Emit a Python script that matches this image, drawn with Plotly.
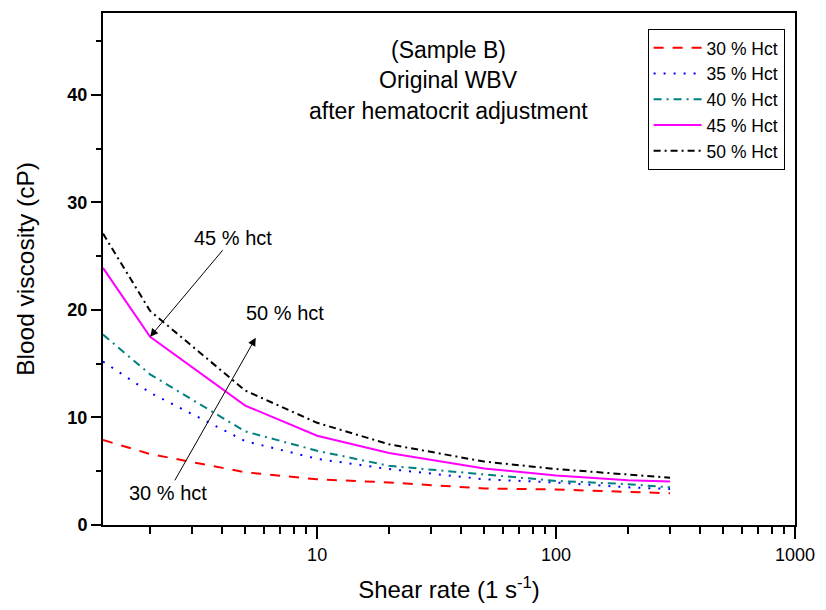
import numpy as np
import plotly.graph_objects as go

shear = [1.27, 2, 5, 10, 20, 50, 100, 200, 300]
hct30 = [7.9, 6.6, 4.9, 4.25, 3.95, 3.4, 3.3, 3.1, 2.95]
hct35 = [15.2, 12.3, 7.8, 6.15, 5.2, 4.25, 3.95, 3.5, 3.35]
hct40 = [17.7, 14.0, 8.7, 6.9, 5.5, 4.7, 4.1, 3.8, 3.5]
hct45 = [23.9, 17.5, 11.1, 8.3, 6.7, 5.25, 4.6, 4.15, 4.05]
hct50 = [27.1, 19.9, 12.5, 9.5, 7.5, 5.9, 5.2, 4.7, 4.4]

names = ["30 % Hct", "35 % Hct", "40 % Hct", "45 % Hct", "50 % Hct"]
series = [hct30, hct35, hct40, hct45, hct50]
colors = ["#FF0000", "#0000FF", "#008080", "#FF00FF", "#000000"]
dashes = ["10px,9px", "2px,8px", "8px,5px,2px,5px", "solid", "7px,4px,2px,4px"]

FONT = "Arial, Liberation Sans, sans-serif"

fig = go.Figure()
for nm, ys, c, d in zip(names, series, colors, dashes):
    fig.add_trace(go.Scatter(x=shear, y=ys, mode="lines", name=nm,
                             line=dict(color=c, width=2, dash=d)))

minor_x = [m * 10 ** k for k in range(0, 3) for m in range(2, 10)]

fig.update_layout(
    width=826, height=610,
    margin=dict(l=103, r=24, t=11, b=84),
    paper_bgcolor="white", plot_bgcolor="white",
    font=dict(family=FONT, color="black"),
    showlegend=True,
    legend=dict(x=0.787, y=0.969, xanchor="left", yanchor="top",
                bordercolor="black", borderwidth=1, bgcolor="white",
                font=dict(size=17.5, family=FONT), itemwidth=48,
                tracegroupgap=0),
    xaxis=dict(type="log", range=[np.log10(1.27), 3],
               tickvals=[10, 100, 1000], ticktext=["10", "100", "1000"],
               ticks="outside", ticklen=12, tickwidth=1.5, tickcolor="black",
               minor=dict(tickvals=minor_x, ticks="outside", ticklen=7,
                          tickwidth=1.5, tickcolor="black"),
               showline=True, linecolor="black", linewidth=2, mirror=True,
               showgrid=False, zeroline=False,
               tickfont=dict(size=18, family=FONT),
               title=dict(text="Shear rate (1 s<sup>-1</sup>)",
                          font=dict(size=24, family=FONT), standoff=18)),
    yaxis=dict(range=[0, 47.6], tickvals=[0, 10, 20, 30, 40],
               ticks="outside", ticklen=10, tickwidth=1.5, tickcolor="black",
               minor=dict(dtick=5, ticks="outside", ticklen=5,
                          tickwidth=1.5, tickcolor="black"),
               showline=True, linecolor="black", linewidth=2, mirror=True,
               showgrid=False, zeroline=False,
               tickfont=dict(size=18, family=FONT, weight="bold"),
               title=dict(text="Blood viscosity (cP)",
                          font=dict(size=24.5, family=FONT), standoff=26)),
)

# title block inside plot
for txt, yy in [("(Sample B)", 0.928), ("Original WBV", 0.870),
                ("after hematocrit adjustment", 0.808)]:
    fig.add_annotation(x=0.499, y=yy, xref="paper", yref="paper",
                       xanchor="center", yanchor="middle",
                       text=txt, showarrow=False,
                       font=dict(size=23, family=FONT))

# label + arrow to the kink of the 45% curve
fig.add_annotation(x=np.log10(shear[1]), y=hct45[1], xref="x", yref="y",
                   text="45 % hct", font=dict(size=20, family=FONT),
                   showarrow=True, arrowhead=2, arrowsize=1.6,
                   arrowwidth=1, arrowcolor="black", ax=83, ay=-99, standoff=0)
# label "30 % hct" with arrow pointing towards the 50% curve
fig.add_annotation(x=0.743, y=17.4, xref="x", yref="y",
                   text="30 % hct", font=dict(size=20, family=FONT),
                   showarrow=True, arrowhead=2, arrowsize=1.6,
                   arrowwidth=1, arrowcolor="black", ax=-88, ay=155, standoff=0)
# label "50 % hct"
fig.add_annotation(x=0.263, y=0.414, xref="paper", yref="paper",
                   xanchor="center", yanchor="middle", text="50 % hct",
                   showarrow=False, font=dict(size=20, family=FONT))

fig.write_html("out.html")
